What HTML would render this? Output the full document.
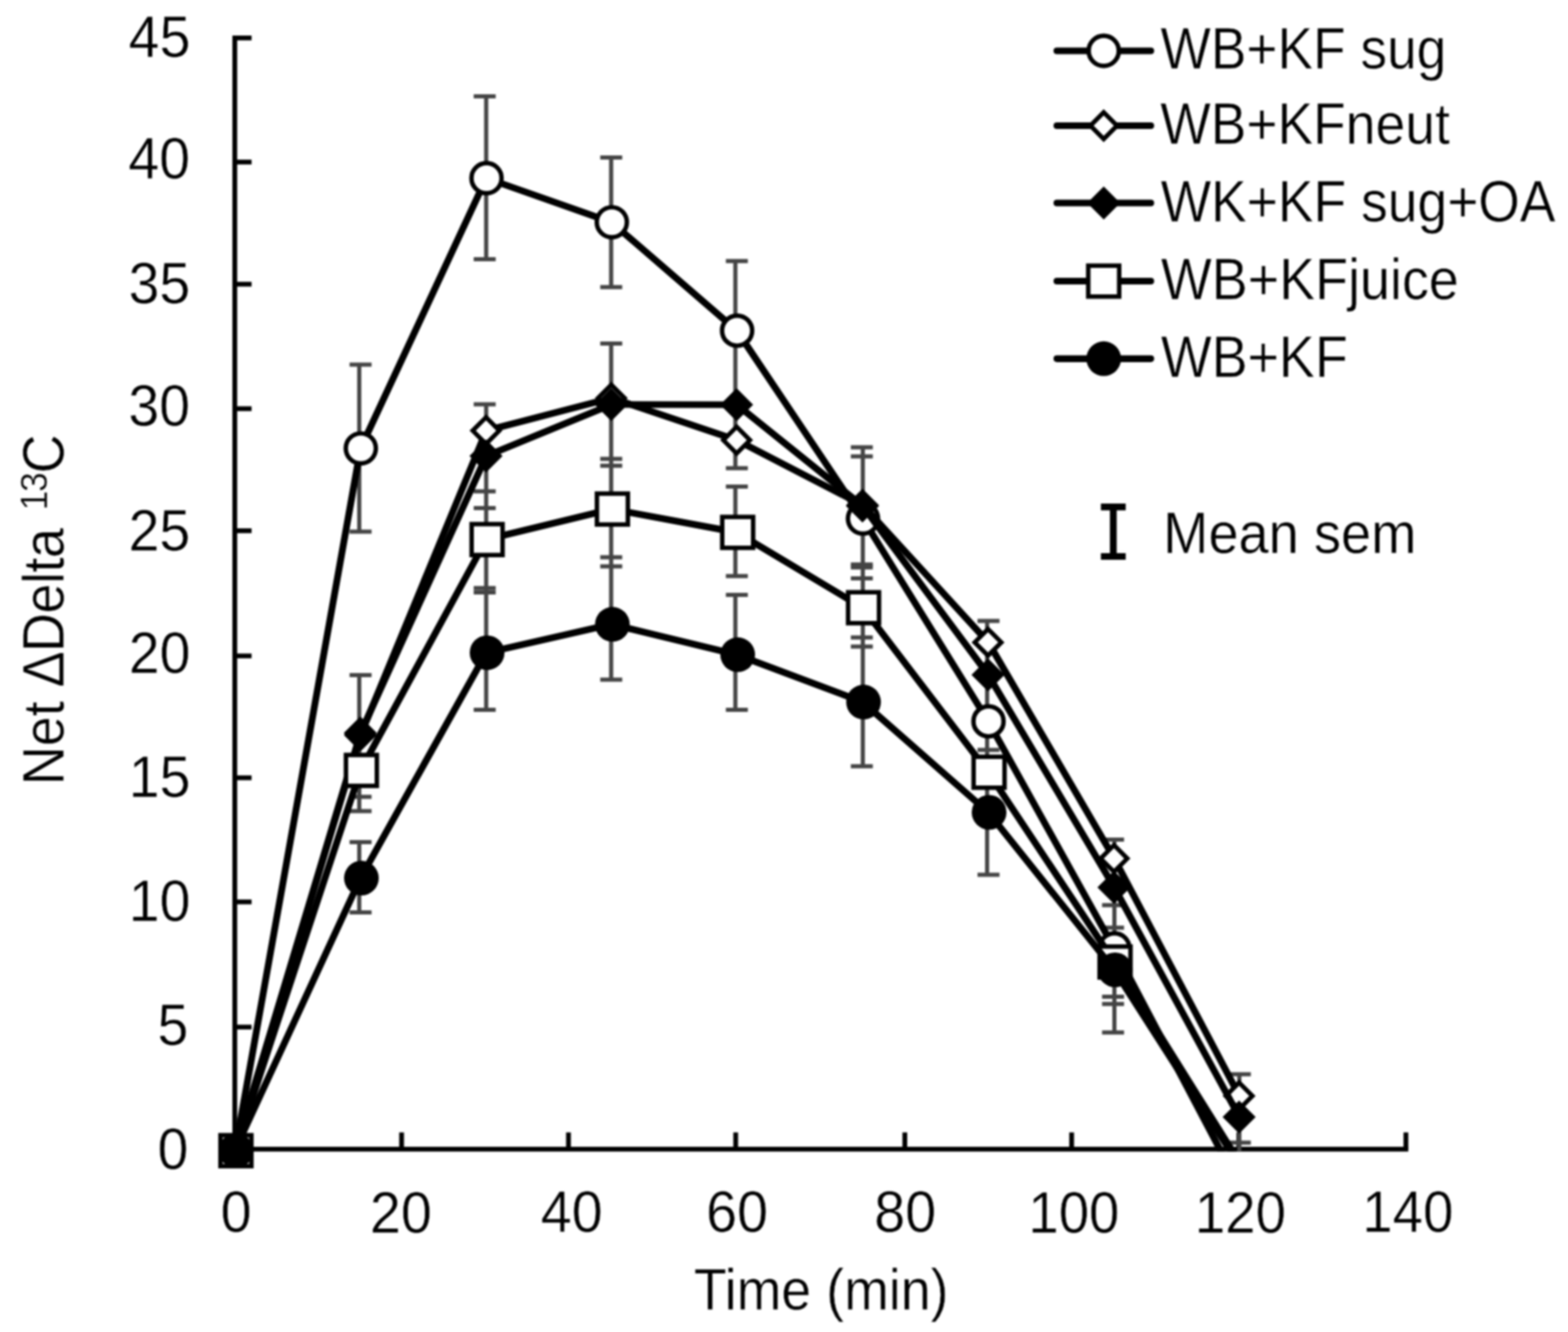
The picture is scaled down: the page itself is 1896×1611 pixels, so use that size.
<!DOCTYPE html>
<html lang="en"><head><meta charset="utf-8"><title>Net ΔDelta 13C vs Time (min)</title>
<style>html,body{margin:0;padding:0;background:#fff}body{width:1896px;height:1611px;overflow:hidden}svg{display:block;filter:blur(0.8px)}text{font-family:"Liberation Sans",Arial,Helvetica,sans-serif;fill:#000;stroke:#fff;stroke-width:0.5}</style>
</head><body>
<svg width="1896" height="1611" viewBox="0 0 1896 1611" role="img" aria-label="Line chart of Net ΔDelta 13C against Time (min) for five test meals, mean with sem error bars">
<rect width="1896" height="1611" fill="#fff"/>
<defs><clipPath id="plot"><rect x="250" y="0" width="1500" height="1392.5"/></clipPath></defs>
<g stroke="#000" stroke-width="5.8" fill="none">
<path d="M283.9 43.0V1392.8"/>
<path d="M281.0 1389.9H1702.9"/>
<path d="M283.9 1242.2h20.3"/>
<path d="M283.9 1090.8h20.3"/>
<path d="M283.9 940.7h20.3"/>
<path d="M283.9 793.3h20.3"/>
<path d="M283.9 641.9h20.3"/>
<path d="M283.9 494.3h20.3"/>
<path d="M283.9 343.7h20.3"/>
<path d="M283.9 196.0h20.3"/>
<path d="M283.9 45.9h20.3"/>
<path d="M485.6 1389.9v-20.3"/>
<path d="M687.4 1389.9v-20.3"/>
<path d="M889.6 1389.9v-20.3"/>
<path d="M1094.1 1389.9v-20.3"/>
<path d="M1295.8 1389.9v-20.3"/>
<path d="M1498.0 1389.9v-20.3"/>
<path d="M1700.0 1389.9v-20.3"/>
</g>
<g clip-path="url(#plot)"><g stroke="#444" stroke-width="5.0" fill="none">
<path d="M434.4 440.9V643.0"/>
<path d="M434.4 816.6V981.0"/>
<path d="M434.4 1018.5V1103.6"/>
<path d="M422.7 440.9h26.6"/>
<path d="M422.7 643.0h26.6"/>
<path d="M422.7 816.6h26.6"/>
<path d="M422.7 963.8h26.6"/>
<path d="M422.7 981.0h26.6"/>
<path d="M422.7 1018.5h26.6"/>
<path d="M422.7 1103.6h26.6"/>
<path d="M587.9 116.6V313.5"/>
<path d="M587.9 489.1V858.5"/>
<path d="M572.8 116.6h26.6"/>
<path d="M572.8 313.5h26.6"/>
<path d="M572.8 489.1h26.6"/>
<path d="M572.8 594.3h26.6"/>
<path d="M572.8 614.5h26.6"/>
<path d="M572.8 711.3h26.6"/>
<path d="M572.8 716.6h26.6"/>
<path d="M572.8 858.5h26.6"/>
<path d="M739.0 190.4V347.3"/>
<path d="M739.0 415.5V822.1"/>
<path d="M725.8 190.4h26.6"/>
<path d="M725.8 347.3h26.6"/>
<path d="M725.8 415.5h26.6"/>
<path d="M725.8 554.9h26.6"/>
<path d="M725.8 563.2h26.6"/>
<path d="M725.8 674.1h26.6"/>
<path d="M725.8 685.1h26.6"/>
<path d="M725.8 822.1h26.6"/>
<path d="M889.2 315.8V566.2"/>
<path d="M889.2 588.5V696.7"/>
<path d="M889.2 719.5V858.5"/>
<path d="M877.7 315.8h26.6"/>
<path d="M877.7 566.2h26.6"/>
<path d="M877.7 588.5h26.6"/>
<path d="M877.7 696.7h26.6"/>
<path d="M877.7 719.5h26.6"/>
<path d="M877.7 858.5h26.6"/>
<path d="M1043.3 541.0V926.8"/>
<path d="M1028.8 541.0h26.6"/>
<path d="M1028.8 551.9h26.6"/>
<path d="M1028.8 682.8h26.6"/>
<path d="M1028.8 686.3h26.6"/>
<path d="M1028.8 699.6h26.6"/>
<path d="M1028.8 771.0h26.6"/>
<path d="M1028.8 782.0h26.6"/>
<path d="M1028.8 926.8h26.6"/>
<path d="M1193.6 750.9V1058.1"/>
<path d="M1182.0 750.9h26.6"/>
<path d="M1182.0 907.0h26.6"/>
<path d="M1182.0 1058.1h26.6"/>
<path d="M1347.5 1015.5V1248.7"/>
<path d="M1332.6 1015.5h26.6"/>
<path d="M1332.6 1094.8h26.6"/>
<path d="M1332.6 1122.0h26.6"/>
<path d="M1332.6 1205.5h26.6"/>
<path d="M1332.6 1214.3h26.6"/>
<path d="M1332.6 1248.7h26.6"/>
<path d="M1498.6 1299.3V1395.0"/>
<path d="M1485.9 1299.3h26.6"/>
<path d="M1485.9 1381.9h26.6"/>
</g></g>
<path d="M284.5 1390.4L436.0 542.3L588.0 215.5L739.5 268.8L891.0 399.9L1043.2 627.2L1195.0 872.4L1347.3 1147.0L1498.6 1434.8" fill="none" stroke="#000" stroke-width="8.2" stroke-linejoin="round" clip-path="url(#plot)"/>
<circle cx="285.3" cy="1391.7" r="18.2" fill="#fff" stroke="#000" stroke-width="5.4"/>
<circle cx="436.3" cy="542.3" r="18.2" fill="#fff" stroke="#000" stroke-width="5.4"/>
<circle cx="588.3" cy="215.5" r="18.2" fill="#fff" stroke="#000" stroke-width="5.4"/>
<circle cx="739.8" cy="268.8" r="18.2" fill="#fff" stroke="#000" stroke-width="5.4"/>
<circle cx="891.3" cy="399.9" r="18.2" fill="#fff" stroke="#000" stroke-width="5.4"/>
<circle cx="1043.5" cy="627.2" r="18.2" fill="#fff" stroke="#000" stroke-width="5.4"/>
<circle cx="1195.3" cy="872.4" r="18.2" fill="#fff" stroke="#000" stroke-width="5.4"/>
<circle cx="1347.6" cy="1147.0" r="18.2" fill="#fff" stroke="#000" stroke-width="5.4"/>
<path d="M284.5 1390.4L436.0 889.0L588.0 520.8L739.5 481.4L891.0 532.3L1043.2 611.0L1195.0 776.9L1347.3 1038.3L1498.6 1325.5" fill="none" stroke="#000" stroke-width="8.2" stroke-linejoin="round" clip-path="url(#plot)"/>
<path d="M285.3 1375.6L301.4 1391.7L285.3 1407.8L269.2 1391.7Z" fill="#fff" stroke="#000" stroke-width="5.4" stroke-linejoin="miter"/>
<path d="M435.7 872.9L451.8 889.0L435.7 905.1L419.6 889.0Z" fill="#fff" stroke="#000" stroke-width="5.4" stroke-linejoin="miter"/>
<path d="M587.7 504.7L603.8 520.8L587.7 536.9L571.6 520.8Z" fill="#fff" stroke="#000" stroke-width="5.4" stroke-linejoin="miter"/>
<path d="M739.2 465.3L755.3 481.4L739.2 497.5L723.1 481.4Z" fill="#fff" stroke="#000" stroke-width="5.4" stroke-linejoin="miter"/>
<path d="M890.7 516.2L906.8 532.3L890.7 548.4L874.6 532.3Z" fill="#fff" stroke="#000" stroke-width="5.4" stroke-linejoin="miter"/>
<path d="M1042.9 594.9L1059.0 611.0L1042.9 627.1L1026.8 611.0Z" fill="#fff" stroke="#000" stroke-width="5.4" stroke-linejoin="miter"/>
<path d="M1194.7 760.8L1210.8 776.9L1194.7 793.0L1178.6 776.9Z" fill="#fff" stroke="#000" stroke-width="5.4" stroke-linejoin="miter"/>
<path d="M1347.0 1022.2L1363.1 1038.3L1347.0 1054.4L1330.9 1038.3Z" fill="#fff" stroke="#000" stroke-width="5.4" stroke-linejoin="miter"/>
<path d="M1498.3 1309.4L1514.4 1325.5L1498.3 1341.6L1482.2 1325.5Z" fill="#fff" stroke="#000" stroke-width="5.4" stroke-linejoin="miter"/>
<path d="M284.5 1390.4L436.0 886.5L588.0 551.5L739.5 489.2L891.0 489.5L1043.2 612.0L1195.0 816.3L1347.3 1073.2L1498.6 1350.9" fill="none" stroke="#000" stroke-width="8.2" stroke-linejoin="round" clip-path="url(#plot)"/>
<path d="M285.3 1371.7L305.3 1391.7L285.3 1411.7L265.3 1391.7Z" fill="#000"/>
<path d="M435.7 866.5L455.7 886.5L435.7 906.5L415.7 886.5Z" fill="#000"/>
<path d="M587.7 531.5L607.7 551.5L587.7 571.5L567.7 551.5Z" fill="#000"/>
<path d="M739.2 469.2L759.2 489.2L739.2 509.2L719.2 489.2Z" fill="#000"/>
<path d="M890.7 469.5L910.7 489.5L890.7 509.5L870.7 489.5Z" fill="#000"/>
<path d="M1042.9 592.0L1062.9 612.0L1042.9 632.0L1022.9 612.0Z" fill="#000"/>
<path d="M1194.7 796.3L1214.7 816.3L1194.7 836.3L1174.7 816.3Z" fill="#000"/>
<path d="M1347.0 1053.2L1367.0 1073.2L1347.0 1093.2L1327.0 1073.2Z" fill="#000"/>
<path d="M1498.3 1330.9L1518.3 1350.9L1498.3 1370.9L1478.3 1350.9Z" fill="#000"/>
<path d="M284.5 1390.4L436.0 931.8L588.0 652.6L739.5 615.7L891.0 643.9L1043.2 735.0L1195.0 934.0L1347.3 1163.5L1498.6 1405.7" fill="none" stroke="#000" stroke-width="8.2" stroke-linejoin="round" clip-path="url(#plot)"/>
<rect x="266.6" y="1373.0" width="37.4" height="37.4" fill="#fff" stroke="#000" stroke-width="5.4"/>
<rect x="418.3" y="913.1" width="37.4" height="37.4" fill="#fff" stroke="#000" stroke-width="5.4"/>
<rect x="570.3" y="633.9" width="37.4" height="37.4" fill="#fff" stroke="#000" stroke-width="5.4"/>
<rect x="721.8" y="597.0" width="37.4" height="37.4" fill="#fff" stroke="#000" stroke-width="5.4"/>
<rect x="873.3" y="625.2" width="37.4" height="37.4" fill="#fff" stroke="#000" stroke-width="5.4"/>
<rect x="1025.5" y="716.3" width="37.4" height="37.4" fill="#fff" stroke="#000" stroke-width="5.4"/>
<rect x="1177.3" y="915.3" width="37.4" height="37.4" fill="#fff" stroke="#000" stroke-width="5.4"/>
<rect x="1329.6" y="1144.8" width="37.4" height="37.4" fill="#fff" stroke="#000" stroke-width="5.4"/>
<path d="M284.5 1390.4L436.0 1062.0L588.0 789.4L739.5 755.1L891.0 791.8L1043.2 849.1L1195.0 982.5L1347.3 1173.0L1498.6 1409.2" fill="none" stroke="#000" stroke-width="8.2" stroke-linejoin="round" clip-path="url(#plot)"/>
<circle cx="285.3" cy="1391.7" r="21" fill="#000"/>
<circle cx="437.0" cy="1062.0" r="21" fill="#000"/>
<circle cx="589.0" cy="789.4" r="21" fill="#000"/>
<circle cx="740.5" cy="755.1" r="21" fill="#000"/>
<circle cx="892.0" cy="791.8" r="21" fill="#000"/>
<circle cx="1044.2" cy="849.1" r="21" fill="#000"/>
<circle cx="1196.0" cy="982.5" r="21" fill="#000"/>
<circle cx="1348.3" cy="1173.0" r="21" fill="#000"/>
<path d="M1278 61.5H1391.5" stroke="#000" stroke-width="8.2" stroke-linecap="round" fill="none"/>
<circle cx="1334.6" cy="61.5" r="18.2" fill="#fff" stroke="#000" stroke-width="5.4"/>
<path d="M1278 152.0H1391.5" stroke="#000" stroke-width="8.2" stroke-linecap="round" fill="none"/>
<path d="M1334.6 135.9L1350.7 152.0L1334.6 168.1L1318.5 152.0Z" fill="#fff" stroke="#000" stroke-width="5.4" stroke-linejoin="miter"/>
<path d="M1278 245.5H1391.5" stroke="#000" stroke-width="8.2" stroke-linecap="round" fill="none"/>
<path d="M1334.6 225.5L1354.6 245.5L1334.6 265.5L1314.6 245.5Z" fill="#000"/>
<path d="M1278 340.0H1391.5" stroke="#000" stroke-width="8.2" stroke-linecap="round" fill="none"/>
<rect x="1315.9" y="321.3" width="37.4" height="37.4" fill="#fff" stroke="#000" stroke-width="5.4"/>
<path d="M1278 433.8H1391.5" stroke="#000" stroke-width="8.2" stroke-linecap="round" fill="none"/>
<circle cx="1334.6" cy="433.8" r="21" fill="#000"/>
<path d="M1346.2 613.2V673M1331.2 613.2h30M1331.2 673h30" stroke="#000" stroke-width="8.2" fill="none"/>
<text transform="translate(155.62 68.56) scale(0.9440 1)" font-size="71.0px">45</text>
<text transform="translate(155.31 216.34) scale(0.9440 1)" font-size="71.0px">40</text>
<text transform="translate(155.48 366.98) scale(0.9440 1)" font-size="71.0px">35</text>
<text transform="translate(155.29 515.44) scale(0.9440 1)" font-size="71.0px">30</text>
<text transform="translate(155.51 666.45) scale(0.9440 1)" font-size="71.0px">25</text>
<text transform="translate(155.82 814.45) scale(0.9440 1)" font-size="71.0px">20</text>
<text transform="translate(155.75 963.76) scale(0.9440 1)" font-size="71.0px">15</text>
<text transform="translate(155.79 1114.26) scale(0.9440 1)" font-size="71.0px">10</text>
<text transform="translate(190.39 1263.56) scale(0.9440 1)" font-size="71.0px">5</text>
<text transform="translate(190.60 1413.65) scale(0.9440 1)" font-size="71.0px">0</text>
<text transform="translate(266.84 1490.46) scale(0.9500 1)" font-size="71.0px">0</text>
<text transform="translate(447.29 1490.59) scale(0.9500 1)" font-size="71.0px">20</text>
<text transform="translate(653.86 1490.47) scale(0.9500 1)" font-size="71.0px">40</text>
<text transform="translate(853.64 1490.48) scale(0.9500 1)" font-size="71.0px">60</text>
<text transform="translate(1057.06 1490.41) scale(0.9500 1)" font-size="71.0px">80</text>
<text transform="translate(1243.42 1490.50) scale(0.9300 1)" font-size="71.0px">100</text>
<text transform="translate(1444.86 1490.61) scale(0.9300 1)" font-size="71.0px">120</text>
<text transform="translate(1647.35 1490.48) scale(0.9300 1)" font-size="71.0px">140</text>
<text transform="translate(839.09 1584.00) scale(0.9148 1)" font-size="71.0px">Time (min)</text>
<text transform="translate(1403.32 83.30) scale(0.9077 1)" font-size="71.0px">WB+KF sug</text>
<text transform="translate(1402.96 173.60) scale(0.9102 1)" font-size="71.0px">WB+KFneut</text>
<text transform="translate(1403.42 267.60) scale(0.9100 1)" font-size="71.0px">WK+KF sug+OA</text>
<text transform="translate(1403.78 362.20) scale(0.9180 1)" font-size="71.0px">WB+KFjuice</text>
<text transform="translate(1403.78 455.60) scale(0.9160 1)" font-size="71.0px">WB+KF</text>
<text transform="translate(1406.49 669.00) scale(0.9241 1)" font-size="71.0px">Mean sem</text>
<text transform="translate(77.10 949.60) rotate(-90) scale(0.9250 1)" font-size="70.5px"><tspan x="0.00">Net </tspan><tspan x="127.89" letter-spacing="-0.7">ΔDelta </tspan><tspan x="359.35" dy="-20.2" font-size="46.5px" letter-spacing="-1.8">13</tspan><tspan x="407.57" dy="20.2">C</tspan></text>
</svg></body></html>
